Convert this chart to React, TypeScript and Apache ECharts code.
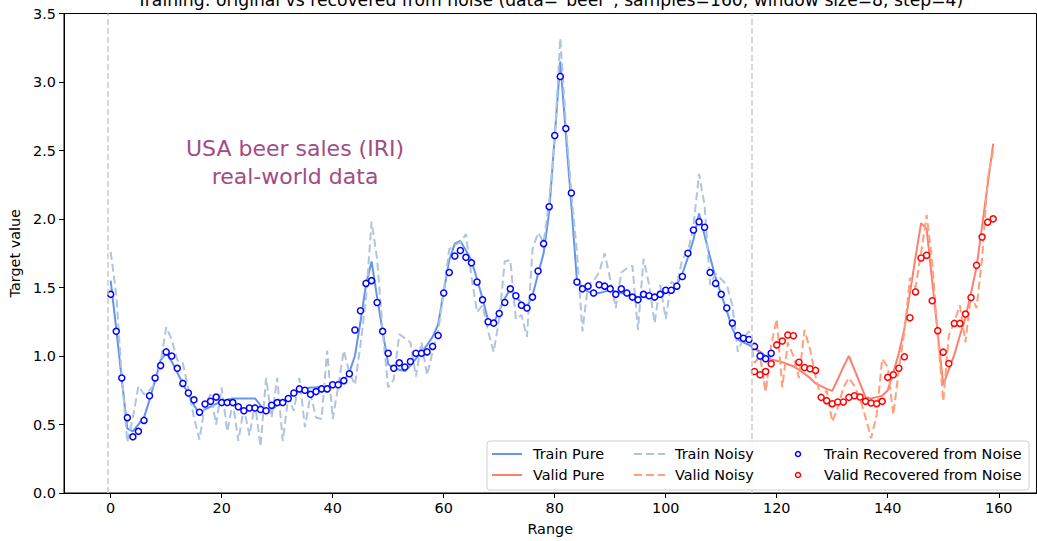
import React, { useEffect, useRef } from "react";
import * as echarts from "echarts";

const TITLE = 'Training: original vs recovered from noise (data="beer", samples=160, window size=8, step=4)';
const X_TICKS = [0, 20, 40, 60, 80, 100, 120, 140, 160];
const SPLIT_LINES = [-0.5, 115.5];
const TRAIN_START = 0;
const VALID_START = 116;

const trainPure = [
  1.55, 1.2, 0.83, 0.47, 0.45, 0.5, 0.55, 0.68, 0.82, 0.97,
  1.02, 0.96, 0.88, 0.8, 0.72, 0.64, 0.58, 0.61, 0.63, 0.65,
  0.67, 0.68, 0.69, 0.69, 0.69, 0.69, 0.69, 0.64, 0.58, 0.61,
  0.64, 0.67, 0.7, 0.73, 0.75, 0.76, 0.77, 0.77, 0.78, 0.78,
  0.79, 0.8, 0.82, 0.88, 1.0, 1.25, 1.52, 1.69, 1.43, 1.18,
  0.94, 0.91, 0.9, 0.89, 0.93, 0.98, 1.03, 1.08, 1.14, 1.23,
  1.47, 1.7, 1.82, 1.84, 1.77, 1.7, 1.56, 1.42, 1.26, 1.24,
  1.33, 1.42, 1.49, 1.43, 1.39, 1.36, 1.44, 1.6, 1.75, 2.05,
  2.6, 3.15, 2.62, 2.1, 1.55, 1.5, 1.47, 1.46, 1.46, 1.47,
  1.48, 1.47, 1.46, 1.45, 1.44, 1.43, 1.43, 1.43, 1.43, 1.44,
  1.46, 1.48, 1.52, 1.6, 1.72, 1.85, 2.04, 1.88, 1.72, 1.57,
  1.45, 1.33, 1.2, 1.12, 1.1, 1.08, 1.06, 1.03, 1.0, 0.98,
];

const trainNoisy = [
  1.76, 1.45, 0.85, 0.37, 0.55, 0.78, 0.72, 0.75, 0.8, 0.95,
  1.21, 1.12, 0.97, 0.95, 0.76, 0.55, 0.39, 0.65, 0.72, 0.5,
  0.77, 0.45, 0.66, 0.38, 0.62, 0.42, 0.65, 0.34, 0.84, 0.55,
  0.84, 0.38, 0.7, 0.6, 0.84, 0.48, 0.72, 0.55, 0.54, 1.04,
  0.54, 0.78, 1.04, 0.88, 0.79, 1.08, 1.42, 1.98, 1.71, 1.18,
  0.77, 0.83, 1.16, 1.13, 1.1, 0.85, 1.1, 0.86, 1.03, 1.18,
  1.47, 1.78, 1.81, 1.83, 1.89, 1.58, 1.32, 1.37, 1.18, 1.03,
  1.27, 1.69, 1.7, 1.27, 1.3, 1.14, 1.78, 1.9, 1.83, 2.13,
  2.58, 3.32, 2.7, 2.19, 1.76, 1.18, 1.52, 1.55, 1.61, 1.75,
  1.56, 1.35, 1.61, 1.64, 1.66, 1.19, 1.71, 1.52, 1.24, 1.52,
  1.27, 1.54, 1.52, 1.71, 1.76, 1.95, 2.33, 2.1, 1.52, 1.6,
  1.56, 1.52, 1.37, 1.03, 1.13, 1.18, 0.95, 1.0, 0.74, 1.05,
];

const trainRecovered = [
  1.45, 1.18, 0.84, 0.55, 0.41, 0.45, 0.53, 0.71, 0.84, 0.93,
  1.03, 1.0, 0.91, 0.8, 0.73, 0.68, 0.59, 0.65, 0.67, 0.7,
  0.66, 0.66, 0.66, 0.63, 0.6, 0.62, 0.62, 0.61, 0.6, 0.64,
  0.66, 0.66, 0.69, 0.73, 0.76, 0.75, 0.72, 0.74, 0.76, 0.76,
  0.79, 0.79, 0.82, 0.87, 1.19, 1.33, 1.53, 1.55, 1.39, 1.18,
  1.02, 0.91, 0.95, 0.92, 0.96, 1.02, 1.02, 1.03, 1.07, 1.15,
  1.46, 1.61, 1.73, 1.77, 1.72, 1.68, 1.54, 1.41, 1.25, 1.24,
  1.31, 1.39, 1.49, 1.44, 1.37, 1.35, 1.43, 1.62, 1.82, 2.09,
  2.61, 3.04, 2.66, 2.19, 1.54, 1.49, 1.51, 1.46, 1.52, 1.51,
  1.49, 1.45, 1.49, 1.46, 1.43, 1.41, 1.45, 1.44, 1.43, 1.45,
  1.48, 1.48, 1.51, 1.58, 1.75, 1.92, 1.98, 1.94, 1.61, 1.53,
  1.45, 1.35, 1.24, 1.15, 1.13, 1.12, 1.07, 1.0, 0.98, 1.02,
];

const validPure = [
  1.06, 1.02, 0.99, 0.975, 0.965, 0.955, 0.94, 0.925, 0.9, 0.87,
  0.84, 0.8, 0.78, 0.76, 0.745, 0.83, 0.92, 1.0, 0.9, 0.8,
  0.7, 0.69, 0.7, 0.71, 0.75, 0.88, 1.02, 1.2, 1.46, 1.72,
  1.97, 1.93, 1.55, 1.17, 0.79, 0.9, 1.01, 1.15, 1.28, 1.46,
  1.65, 1.95, 2.25, 2.55,
];

const validNoisy = [
  0.95, 1.0, 0.74, 1.08, 1.27, 0.77, 1.1, 1.0, 0.84, 1.19,
  1.05, 0.85, 0.69, 0.75, 0.52, 0.62, 0.77, 0.84, 0.78, 0.69,
  0.55, 0.4, 0.57, 0.98, 0.92, 0.57, 0.9, 1.18, 1.57, 1.5,
  1.75, 2.03, 1.7, 1.15, 0.67, 1.15, 1.25, 1.37, 1.1, 1.45,
  1.35, 1.71, 2.29, 2.5,
];

const validRecovered = [
  0.887, 0.863, 0.887, 0.943, 1.081, 1.11, 1.153, 1.148, 0.955, 0.916,
  0.907, 0.895, 0.698, 0.674, 0.652, 0.664, 0.664, 0.698, 0.71, 0.701,
  0.669, 0.657, 0.652, 0.669, 0.844, 0.863, 0.911, 0.994, 1.279, 1.468,
  1.715, 1.735, 1.403, 1.185, 1.028, 0.945, 1.238, 1.238, 1.306, 1.427,
  1.662, 1.868, 1.977, 2.001,
];

const FONT = '"DejaVu Sans", sans-serif';

function pts(values: number[], start: number) {
  return values.map((v, i) => [start + i, v]);
}

export default function App() {
  const ref = useRef<HTMLDivElement>(null);

  useEffect(() => {
    const chart = echarts.init(ref.current!, null, { renderer: "svg" });

    const legendRowY = [454, 475];
    const legendItems: any[] = [
      { type: "rect", shape: { x: 487, y: 441, width: 542, height: 49, r: 3 }, style: { fill: "rgba(255,255,255,0.85)", stroke: "#d0d0d0", lineWidth: 1 }, z: 100 },
      { type: "line", shape: { x1: 492, y1: legendRowY[0], x2: 522, y2: legendRowY[0] }, style: { stroke: "#6495ED", lineWidth: 2 }, z: 101 },
      { type: "line", shape: { x1: 492, y1: legendRowY[1], x2: 522, y2: legendRowY[1] }, style: { stroke: "#FA8072", lineWidth: 2 }, z: 101 },
      { type: "line", shape: { x1: 634, y1: legendRowY[0], x2: 665, y2: legendRowY[0] }, style: { stroke: "#B0C4DE", lineWidth: 2, lineDash: [8, 4] }, z: 101 },
      { type: "line", shape: { x1: 634, y1: legendRowY[1], x2: 665, y2: legendRowY[1] }, style: { stroke: "#FFA07A", lineWidth: 2, lineDash: [8, 4] }, z: 101 },
      { type: "circle", shape: { cx: 798, cy: legendRowY[0], r: 2.5 }, style: { fill: "#fff", stroke: "#0000ff", lineWidth: 1.5 }, z: 101 },
      { type: "circle", shape: { cx: 798, cy: legendRowY[1], r: 2.5 }, style: { fill: "#fff", stroke: "#ff0000", lineWidth: 1.5 }, z: 101 },
    ];
    const legendTexts: [string, number, number][] = [
      ["Train Pure", 533, legendRowY[0]],
      ["Valid Pure", 533, legendRowY[1]],
      ["Train Noisy", 675, legendRowY[0]],
      ["Valid Noisy", 675, legendRowY[1]],
      ["Train Recovered from Noise", 824, legendRowY[0]],
      ["Valid Recovered from Noise", 824, legendRowY[1]],
    ];
    legendTexts.forEach(([t, x, y]) => {
      legendItems.push({
        type: "text", x, y, z: 101,
        style: { text: t, fill: "#000", fontSize: 14.4, fontFamily: FONT, align: "left", verticalAlign: "middle" },
      });
    });

    const option: any = {
      animation: false,
      backgroundColor: "#fff",
      grid: { left: 64, right: 0.5, top: 13.5, bottom: 45.3, show: true, borderColor: "#000", borderWidth: 1, backgroundColor: "transparent" },
      xAxis: {
        type: "value",
        min: -8.41,
        max: 166.8,
        name: "Range",
        nameLocation: "middle",
        nameGap: 29,
        nameTextStyle: { fontSize: 14.4, fontFamily: FONT, color: "#000" },
        splitLine: { show: false },
        axisLine: { show: true, onZero: false, lineStyle: { color: "#000", width: 1 } },
        axisTick: { show: true, inside: false, length: 5, lineStyle: { color: "#000" }, customValues: X_TICKS },
        axisLabel: { fontSize: 14.4, fontFamily: FONT, color: "#000", margin: 8, customValues: X_TICKS },
      },
      yAxis: {
        type: "value",
        min: 0,
        max: 3.5,
        interval: 0.5,
        name: "Target value",
        nameLocation: "middle",
        nameRotate: 90,
        nameGap: 38,
        nameTextStyle: { fontSize: 14.4, fontFamily: FONT, color: "#000" },
        splitLine: { show: false },
        axisLine: { show: true, onZero: false, lineStyle: { color: "#000", width: 1 } },
        axisTick: { show: true, inside: false, length: 5, lineStyle: { color: "#000" } },
        axisLabel: { fontSize: 14.4, fontFamily: FONT, color: "#000", margin: 8, formatter: (v: number) => v.toFixed(1) },
      },
      series: [
        {
          name: "Train Pure", type: "line", data: pts(trainPure, TRAIN_START), showSymbol: false, symbol: "none",
          lineStyle: { color: "#6495ED", width: 2 }, z: 2,
          markLine: {
            silent: true, symbol: ["none", "none"], label: { show: false },
            lineStyle: { color: "#cccccc", type: [6, 3], width: 1.5 },
            data: SPLIT_LINES.map((x) => ({ xAxis: x })),
          },
        },
        { name: "Valid Pure", type: "line", data: pts(validPure, VALID_START), showSymbol: false, symbol: "none", lineStyle: { color: "#FA8072", width: 2 }, z: 2 },
        { name: "Train Noisy", type: "line", data: pts(trainNoisy, TRAIN_START), showSymbol: false, symbol: "none", lineStyle: { color: "#B0C4DE", width: 2, type: [8, 4] }, z: 3 },
        { name: "Valid Noisy", type: "line", data: pts(validNoisy, VALID_START), showSymbol: false, symbol: "none", lineStyle: { color: "#FFA07A", width: 2, type: [8, 4] }, z: 3 },
        { name: "Train Recovered from Noise", type: "scatter", data: pts(trainRecovered, TRAIN_START), symbol: "circle", symbolSize: 6, itemStyle: { color: "#fff", borderColor: "#0000ff", borderWidth: 1.5, opacity: 1 }, z: 4 },
        { name: "Valid Recovered from Noise", type: "scatter", data: pts(validRecovered, VALID_START), symbol: "circle", symbolSize: 6, itemStyle: { color: "#fff", borderColor: "#ff0000", borderWidth: 1.5, opacity: 1 }, z: 4 },
      ],
      graphic: [
        {
          type: "text", x: 550, y: 0, z: 50,
          style: { text: TITLE, fill: "#000", fontSize: 17.2, fontFamily: FONT, align: "center", verticalAlign: "middle" },
        },
        {
          type: "text", x: 295, y: 162, z: 50,
          style: { text: "USA beer sales (IRI)\nreal-world data", fill: "#a34a85", fontSize: 22, lineHeight: 28, fontFamily: FONT, align: "center", verticalAlign: "middle" },
        },
        ...legendItems,
      ],
    };

    chart.setOption(option);
    return () => chart.dispose();
  }, []);

  return <div ref={ref} style={{ position: "absolute", left: 0, top: 0, width: 1037, height: 541 }} />;
}
